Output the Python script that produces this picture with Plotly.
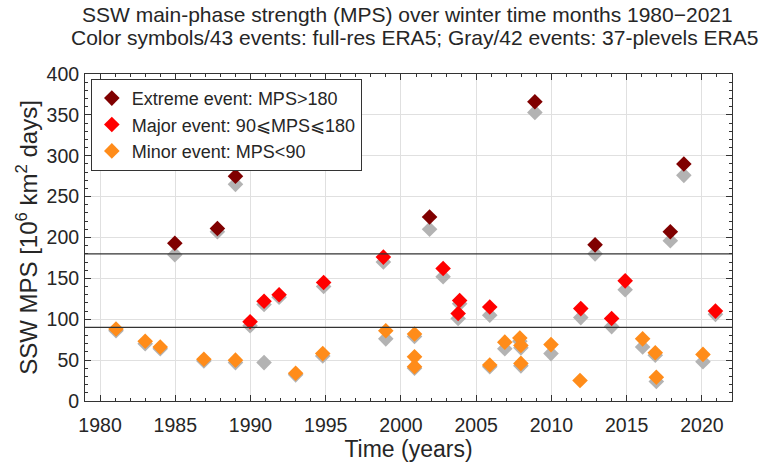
import plotly.graph_objects as go

# Colored (full-res ERA5) events: time (decimal year) and MPS
ext_t = [1984.97, 1987.8, 1989.0, 2001.9, 2008.9, 2012.9, 2017.9, 2018.8]
ext_v = [193, 211, 275, 225, 366, 191, 207, 290]

maj_t = [1989.97, 1990.9, 1991.9, 1994.86, 1998.83, 2002.8, 2003.9, 2003.8,
         2005.9, 2011.95, 2014.0, 2014.9, 2020.9]
maj_v = [97, 122, 130, 145, 176, 162, 123, 107, 115, 113, 101, 147, 110]

min_t = [1981.06, 1983.0, 1984.0, 1986.9, 1989.0, 1993.0, 1994.8, 1998.99,
         2000.9, 2000.9, 2000.9, 2005.9, 2006.9, 2007.9, 2007.97, 2007.97,
         2009.97, 2011.9, 2016.06, 2016.9, 2016.97, 2020.07]
min_v = [88, 73, 66, 51, 50, 34, 58, 86, 82, 54, 42, 44, 72, 77, 68, 46,
         69, 25, 76, 59, 29, 57]

# Gray (37-plevels ERA5) events
gray_t = [1981.06, 1983.0, 1984.0, 1984.97, 1986.9, 1987.8, 1989.0, 1989.0,
          1989.97, 1990.9, 1990.9, 1991.9, 1994.86, 1994.8, 1998.83, 1998.99,
          2000.9, 2000.9, 2001.9, 2002.8, 2003.9, 2003.8, 2005.9, 2005.9,
          2006.9, 2007.9, 2007.97, 2007.97, 2008.9, 2009.97, 2011.95, 2012.9,
          2014.0, 2014.9, 2016.06, 2016.9, 2016.97, 2017.9, 2018.8, 2020.07,
          2020.9, 1993.0]
gray_v = [86, 70, 64, 179, 49, 207, 265, 47, 92, 118, 47, 127, 140, 55,
          170, 76, 79, 40, 210, 152, 119, 101, 105, 42, 64, 73, 65, 43, 353,
          58, 102, 180, 91, 136, 66, 56, 24, 196, 276, 48, 106, 32]

thresholds = [90, 180]

title_lines = ["SSW main-phase strength (MPS) over winter time months 1980\u22122021",
               "Color symbols/43 events: full-res ERA5; Gray/42 events: 37-plevels ERA5"]
legend_names = ["Extreme event: MPS>180", "Major event: 90\u2a7dMPS\u2a7d180",
                "Minor event: MPS<90"]

FONT = "Liberation Sans"
TXT = "#262626"
MS = 12

fig = go.Figure()
fig.add_trace(go.Scatter(x=gray_t, y=gray_v, mode="markers", showlegend=False,
                         marker=dict(symbol="diamond", size=MS, color="#b3b3b3"),
                         hoverinfo="skip"))
for t, v, c, n in [(ext_t, ext_v, "#800000", legend_names[0]),
                   (maj_t, maj_v, "#ff0000", legend_names[1]),
                   (min_t, min_v, "#ff8c1a", legend_names[2])]:
    fig.add_trace(go.Scatter(x=t, y=v, mode="markers", name=n,
                             marker=dict(symbol="diamond", size=MS, color=c)))

for th in thresholds:
    fig.add_shape(type="line", xref="paper", x0=0, x1=1, yref="y", y0=th, y1=th,
                  line=dict(color="#333333", width=1.3))

axis_common = dict(showline=True, linecolor="#333333", linewidth=1, mirror="allticks",
                   ticks="inside", ticklen=6, tickcolor="#333333", automargin=False,
                   showgrid=True, gridcolor="#e0e0e0", gridwidth=1, zeroline=False,
                   tickfont=dict(family=FONT, size=19.5, color=TXT))

fig.update_xaxes(range=[1979, 2022], tick0=1980, dtick=5, ticklabelstandoff=7,
                 minor=dict(dtick=1, ticks="inside", ticklen=3, tickcolor="#333333", showgrid=False),
                 title=dict(text="Time (years)", font=dict(family=FONT, size=23, color=TXT), standoff=0),
                 **axis_common)
fig.update_yaxes(range=[0, 400], tick0=0, dtick=50, ticklabelstandoff=1,
                 minor=dict(dtick=10, ticks="inside", ticklen=3, tickcolor="#333333", showgrid=False),
                 title=dict(text="SSW MPS [10<sup>6</sup> km<sup>2</sup> days]",
                            font=dict(family=FONT, size=24, color=TXT), standoff=2),
                 **axis_common)

fig.add_annotation(text=title_lines[0], xref="paper", yref="paper", x=0.498, y=1.183,
                   xanchor="center", yanchor="middle", showarrow=False,
                   font=dict(family=FONT, size=21, color=TXT))
fig.add_annotation(text=title_lines[1], xref="paper", yref="paper", x=0.509, y=1.111,
                   xanchor="center", yanchor="middle", showarrow=False,
                   font=dict(family=FONT, size=21, color=TXT))

fig.update_layout(
    width=759, height=463,
    margin=dict(l=85, r=27, t=74, b=62, autoexpand=False),
    paper_bgcolor="white", plot_bgcolor="white",
    legend=dict(x=0.009, y=0.985, xanchor="left", yanchor="top",
                bgcolor="white", bordercolor="#333333", borderwidth=1,
                font=dict(family=FONT, size=18, color=TXT),
                itemsizing="constant", tracegroupgap=0),
    showlegend=True,
)

fig.write_html("out.html")
